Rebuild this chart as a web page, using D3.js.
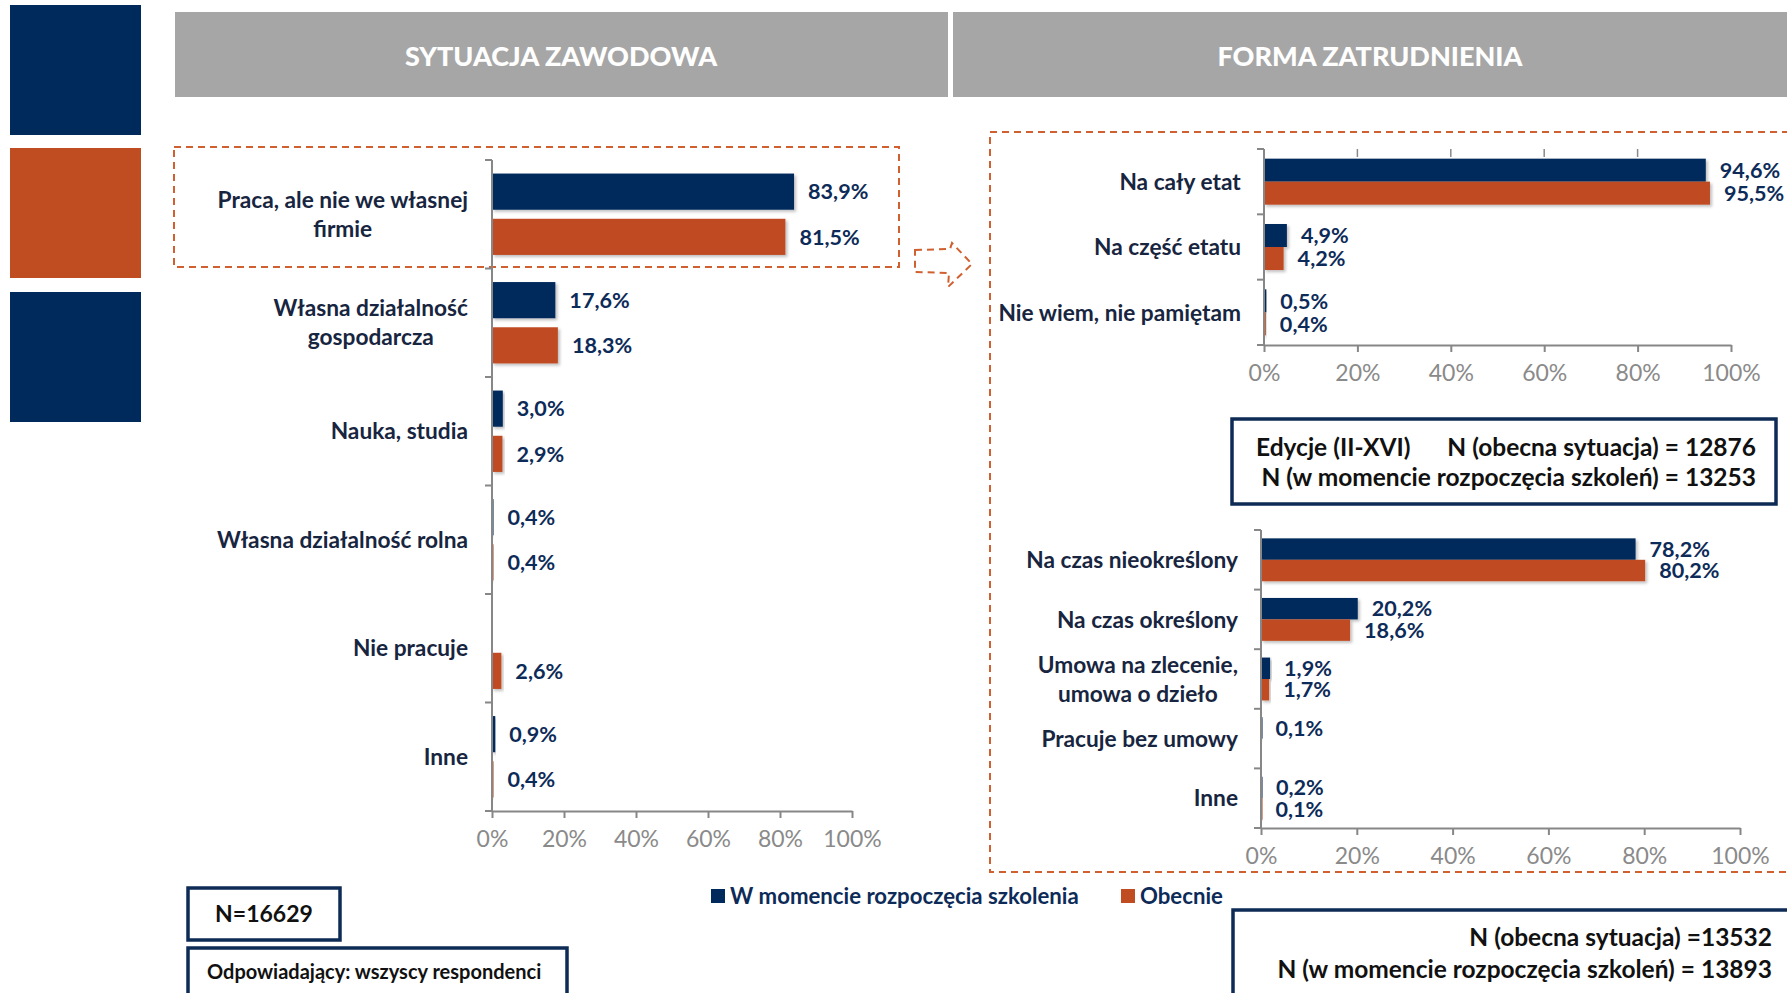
<!DOCTYPE html>
<html>
<head>
<meta charset="utf-8">
<script src="https://cdn.jsdelivr.net/npm/d3@7"></script>
<style>
  body { margin: 0; background: #fff; }
  svg { display: block; font-family: Lato, "Liberation Sans", sans-serif; }
  .cat-label { font-weight: 700; fill: #172540; font-size: 22.7px; }
  .val-label { font-weight: 700; fill: #0d2b58; font-size: 21.6px; }
  .axis text { fill: #8a8a8a; font-size: 23px; font-family: Lato, "Liberation Sans", sans-serif; }
  .axis path, .axis line { stroke: #878787; stroke-width: 2; }
  .box-text { font-weight: 700; fill: #111; font-size: 24.5px; }
</style>
</head>
<body>
<div id="chart"></div>
<script>
const seriesKeys = ["start", "now"];
const seriesNames = ["W momencie rozpoczęcia szkolenia", "Obecnie"];
const tickValues = [0, 20, 40, 60, 80, 100];

const situationCategories = ["Praca, ale nie we własnej\nfirmie", "Własna działalność\ngospodarcza", "Nauka, studia", "Własna działalność rolna", "Nie pracuje", "Inne"];
const situationStart = [83.9, 17.6, 3.0, 0.4, null, 0.9];
const situationNow = [81.5, 18.3, 2.9, 0.4, 2.6, 0.4];

const timeCategories = ["Na cały etat", "Na część etatu", "Nie wiem, nie pamiętam"];
const timeStart = [94.6, 4.9, 0.5];
const timeNow = [95.5, 4.2, 0.4];

const contractCategories = ["Na czas nieokreślony", "Na czas określony", "Umowa na zlecenie,\numowa o dzieło", "Pracuje bez umowy", "Inne"];
const contractStart = [78.2, 20.2, 1.9, 0.1, 0.2];
const contractNow = [80.2, 18.6, 1.7, null, 0.1];

const color = { start: "#002a5c", now: "#c04c22" };
const navy = "#0e2b55";
const dashOrange = "#d0602f";

const formatValue = v => d3.format(".1f")(v).replace(".", ",") + "%";

const svg = d3.select("#chart").append("svg")
  .attr("width", 1787)
  .attr("height", 993);

const defs = svg.append("defs");
const shadow = defs.append("filter").attr("id", "shadow")
  .attr("x", "-10%").attr("y", "-20%").attr("width", "130%").attr("height", "160%");
shadow.append("feDropShadow")
  .attr("dx", 2).attr("dy", 2).attr("stdDeviation", 1.6)
  .attr("flood-color", "#000").attr("flood-opacity", 0.25);

// decoration squares on the left
[[5, "#002a5c"], [148, "#c04c22"], [292, "#002a5c"]].forEach(([y, c]) => {
  svg.append("rect").attr("x", 10).attr("y", y).attr("width", 131).attr("height", 130).attr("fill", c);
});

// headers
svg.append("rect").attr("x", 175).attr("y", 12).attr("width", 773).attr("height", 85).attr("fill", "#a6a6a6");
svg.append("rect").attr("x", 953).attr("y", 12).attr("width", 834).attr("height", 85).attr("fill", "#a6a6a6");
svg.append("text").attr("x", 561).attr("y", 57).attr("dy", "0.35em").attr("text-anchor", "middle")
  .attr("fill", "#fff").style("font-weight", 900).style("font-size", "27px").text("SYTUACJA ZAWODOWA");
svg.append("text").attr("x", 1370).attr("y", 57).attr("dy", "0.35em").attr("text-anchor", "middle")
  .attr("fill", "#fff").style("font-weight", 900).style("font-size", "27px").text("FORMA ZATRUDNIENIA");

// dashed highlight frames
svg.append("rect").attr("x", 174).attr("y", 147).attr("width", 725).attr("height", 120)
  .attr("fill", "none").attr("stroke", dashOrange).attr("stroke-width", 2).attr("stroke-dasharray", "7,5");
svg.append("rect").attr("x", 990).attr("y", 132).attr("width", 820).attr("height", 740)
  .attr("fill", "none").attr("stroke", dashOrange).attr("stroke-width", 2).attr("stroke-dasharray", "7,5");
svg.append("path")
  .attr("d", "M915,250 L950,249 L952,243 L972,264 L948,287 L949,273 L915,272 Z")
  .attr("fill", "none").attr("stroke", dashOrange).attr("stroke-width", 2).attr("stroke-dasharray", "7,5");

function drawChart(cfg) {
  const rows = cfg.categories.map((c, i) => ({ category: c, start: cfg.start[i], now: cfg.now[i] }));

  const x = d3.scaleLinear().domain([0, 100]).range(cfg.xRange);
  const y = d3.scaleBand().domain(cfg.categories).range(cfg.yRange).padding(0);
  const inner = d3.scaleBand().domain(seriesKeys).range([0, y.bandwidth()])
    .paddingInner(cfg.innerPad).paddingOuter(cfg.outerPad);

  const g = svg.append("g");

  const bars = rows.flatMap(r => seriesKeys
    .filter(k => r[k] !== null)
    .map(k => ({ category: r.category, key: k, value: r[k] })));

  g.selectAll(".bar")
    .data(bars)
    .enter()
    .append("rect")
    .attr("class", "bar")
    .attr("x", x(0))
    .attr("y", d => y(d.category) + inner(d.key))
    .attr("width", d => Math.max(1.5, x(d.value) - x(0)))
    .attr("height", inner.bandwidth())
    .attr("fill", d => color[d.key])
    .attr("filter", "url(#shadow)");

  g.selectAll(".val-label")
    .data(bars)
    .enter()
    .append("text")
    .attr("class", "val-label")
    .attr("x", d => x(d.value) + cfg.labelGap)
    .attr("y", d => y(d.category) + inner(d.key) + inner.bandwidth() / 2)
    .attr("dy", "0.36em")
    .text(d => formatValue(d.value));

  // x axis
  const xAxis = g.append("g")
    .attr("class", "axis")
    .attr("transform", `translate(0,${cfg.yRange[1]})`)
    .call(d3.axisBottom(x).tickValues(tickValues).tickSize(7).tickSizeOuter(0).tickFormat(d => d + "%"));
  xAxis.selectAll("text").attr("y", 28).attr("dy", "0.35em");

  // y axis with ticks between categories
  const y0 = cfg.yRange[0];
  const y1 = cfg.yRange[1];
  g.append("line")
    .attr("x1", x(0)).attr("x2", x(0)).attr("y1", y0).attr("y2", y1)
    .attr("stroke", "#878787").attr("stroke-width", 2);
  const bounds = cfg.categories.map(c => y(c)).concat([y1]);
  g.selectAll(".ybound")
    .data(bounds)
    .enter()
    .append("line")
    .attr("x1", x(0) - 7).attr("x2", x(0))
    .attr("y1", d => d).attr("y2", d => d)
    .attr("stroke", "#878787").attr("stroke-width", 2);

  if (cfg.topStubs) {
    g.selectAll(".stub")
      .data(tickValues.slice(1, -1))
      .enter()
      .append("line")
      .attr("x1", d => x(d)).attr("x2", d => x(d))
      .attr("y1", y0).attr("y2", y0 + 8)
      .attr("stroke", "#8a8a8a").attr("stroke-width", 1.5);
  }

  // category labels, wrapped lines centred on each other, block right-aligned
  cfg.categories.forEach(c => {
    const lines = c.split("\n");
    const cy = y(c) + y.bandwidth() / 2;
    const lh = cfg.lineHeight;
    const t = g.append("text")
      .attr("class", "cat-label")
      .attr("text-anchor", "middle");
    lines.forEach((line, i) => {
      t.append("tspan")
        .attr("x", 0)
        .attr("y", cy + (i - (lines.length - 1) / 2) * lh)
        .attr("dy", "0.36em")
        .text(line);
    });
    const w = t.node().getBBox().width;
    t.attr("transform", `translate(${x(0) - cfg.labelOffset - w / 2},0)`);
  });
}

drawChart({
  categories: situationCategories, start: situationStart, now: situationNow,
  xRange: [492, 852], yRange: [160, 811],
  innerPad: 0.2, outerPad: 0.3, labelGap: 14, labelOffset: 24, lineHeight: 29
});

drawChart({
  categories: timeCategories, start: timeStart, now: timeNow,
  xRange: [1264, 1731], yRange: [149, 345],
  innerPad: 0, outerPad: 0.42, labelGap: 14, labelOffset: 23, lineHeight: 29, topStubs: true
});

drawChart({
  categories: contractCategories, start: contractStart, now: contractNow,
  xRange: [1261, 1740], yRange: [530, 828],
  innerPad: 0, outerPad: 0.39, labelGap: 14, labelOffset: 23, lineHeight: 29
});

// legend
const legend = svg.append("g").attr("transform", "translate(711,896)");
const legendX = [0, 410];
seriesKeys.forEach((k, i) => {
  legend.append("rect").attr("x", legendX[i]).attr("y", -7).attr("width", 14).attr("height", 14).attr("fill", color[k]);
  legend.append("text").attr("x", legendX[i] + 19).attr("y", 0).attr("dy", "0.36em")
    .attr("fill", "#0d2b58").style("font-weight", 700).style("font-size", "22.2px").text(seriesNames[i]);
});

// note boxes
function noteBox(x, y, w, h) {
  svg.append("rect").attr("x", x).attr("y", y).attr("width", w).attr("height", h)
    .attr("fill", "#fff").attr("stroke", navy).attr("stroke-width", 3.5);
}

noteBox(1232, 419, 544, 85);
svg.append("text").attr("class", "box-text").attr("x", 1256).attr("y", 447).attr("dy", "0.36em").text("Edycje (II-XVI)");
svg.append("text").attr("class", "box-text").attr("x", 1756).attr("y", 447).attr("dy", "0.36em")
  .attr("text-anchor", "end").text("N (obecna sytuacja) = 12876");
svg.append("text").attr("class", "box-text").attr("x", 1756).attr("y", 477).attr("dy", "0.36em")
  .attr("text-anchor", "end").text("N (w momencie rozpoczęcia szkoleń) = 13253");

noteBox(1233, 910, 600, 120);
svg.append("text").attr("class", "box-text").attr("x", 1772).attr("y", 937).attr("dy", "0.36em")
  .attr("text-anchor", "end").text("N (obecna sytuacja) =13532");
svg.append("text").attr("class", "box-text").attr("x", 1772).attr("y", 969).attr("dy", "0.36em")
  .attr("text-anchor", "end").text("N (w momencie rozpoczęcia szkoleń) = 13893");

noteBox(188, 888, 152, 52);
svg.append("text").attr("class", "box-text").attr("x", 264).attr("y", 914).attr("dy", "0.36em")
  .attr("text-anchor", "middle").style("font-size", "23px").text("N=16629");

noteBox(188, 948, 379, 60);
svg.append("text").attr("class", "box-text").attr("x", 207).attr("y", 972).attr("dy", "0.36em")
  .style("font-size", "20px").text("Odpowiadający: wszyscy respondenci");
</script>
</body>
</html>
